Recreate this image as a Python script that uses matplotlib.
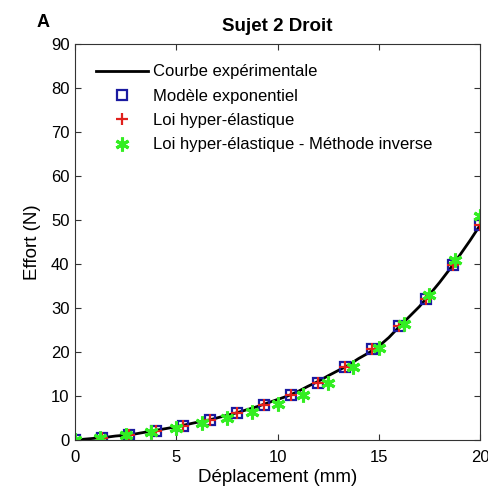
import numpy as np
import matplotlib
matplotlib.use('Agg')
import matplotlib.pyplot as plt

plt.rcParams['font.family'] = ['Liberation Sans', 'DejaVu Sans']

# Courbe expérimentale (mm, N)
x_exp = [0, 0.5, 1, 1.5, 2, 2.5, 3, 3.5, 4, 4.5, 5, 5.5, 6, 6.5, 7, 7.5, 8, 8.5, 9,
         9.5, 10, 10.5, 11, 11.5, 12, 12.5, 13, 13.5, 14, 14.5, 15, 15.5, 16, 16.5,
         17, 17.5, 18, 18.5, 19, 19.5, 20]
y_exp = [0, 0.2, 0.4, 0.6, 0.9, 1.1, 1.4, 1.8, 2.2, 2.6, 3.0, 3.5, 4.0, 4.4, 5.0, 5.6,
         6.2, 6.9, 7.6, 8.4, 9.2, 10.0, 11.0, 12.2, 13.3, 14.6, 15.8, 17.0, 18.5, 19.8,
         21.3, 23.3, 25.7, 28.0, 30.3, 33.0, 35.8, 38.8, 42.0, 45.3, 48.8]

# Modèle exponentiel / loi hyper-élastique
x_mod = [0, 1.33, 2.67, 4, 5.33, 6.67, 8, 9.33, 10.67, 12, 13.33, 14.67, 16, 17.33, 18.67, 20]
y_expo = [0, 0.5, 1.2, 2.1, 3.2, 4.5, 6.1, 8.0, 10.3, 13.0, 16.5, 20.7, 25.8, 32.0, 39.7, 48.8]
y_hyper = [0, 0.5, 1.2, 2.1, 3.2, 4.5, 6.1, 8.0, 10.3, 13.0, 16.5, 20.7, 25.8, 32.0, 39.7, 48.8]

# Loi hyper-élastique - méthode inverse
x_inv = [0, 1.25, 2.5, 3.75, 5, 6.25, 7.5, 8.75, 10, 11.25, 12.5, 13.75, 15, 16.25,
         17.5, 18.75, 20]
y_inv = [0, 0.5, 1.1, 1.9, 2.8, 3.8, 5.0, 6.4, 8.1, 10.2, 13.0, 16.6, 21.0, 26.3,
         33.0, 41.0, 51.0]

fig = plt.figure(figsize=(4.88, 4.91), dpi=100)
ax = fig.add_axes([0.1537, 0.1039, 0.830, 0.8065])

ax.plot(x_exp, y_exp, color='black', lw=2, label='Courbe expérimentale')
ax.plot(x_mod, y_expo, ls='none', marker='s', ms=7, mfc='none', mec='#1a1aa0', mew=1.6,
        label='Modèle exponentiel')
ax.plot(x_mod, y_hyper, ls='none', marker='+', ms=8, mec='#e0201c', mew=1.6,
        label='Loi hyper-élastique')
# astérisque à 6 branches
ax.plot(x_inv, y_inv, ls='none', marker=(6, 2, 0), ms=10, mec='#33ee22', mew=2.2,
        label='Loi hyper-élastique - Méthode inverse')

ax.set_xlim(0, 20)
ax.set_ylim(0, 90)
ax.set_xticks([0, 5, 10, 15, 20])
ax.set_yticks(np.arange(0, 91, 10))
ax.tick_params(direction='in', top=True, right=True, labelsize=12, length=4,
               color='#333333')
ax.tick_params(axis='x', pad=7)
ax.tick_params(axis='y', pad=4)
for s in ax.spines.values():
    s.set_color('#333333')
ax.set_xlabel('Déplacement (mm)', fontsize=13.5, labelpad=3)
ax.set_ylabel('Effort (N)', fontsize=13.5, labelpad=7)
ax.set_title('Sujet 2 Droit', fontsize=13.5, fontweight='bold', pad=9)
fig.text(0.075, 0.955, 'A', fontsize=13, fontweight='bold', ha='left', va='center')

ax.legend(loc='upper left', frameon=False, fontsize=12, handlelength=3.1,
          borderaxespad=0.4, labelspacing=0.56, handletextpad=0.3,
          bbox_to_anchor=(0.02, 0.982))

fig.savefig('out.png', dpi=100)
